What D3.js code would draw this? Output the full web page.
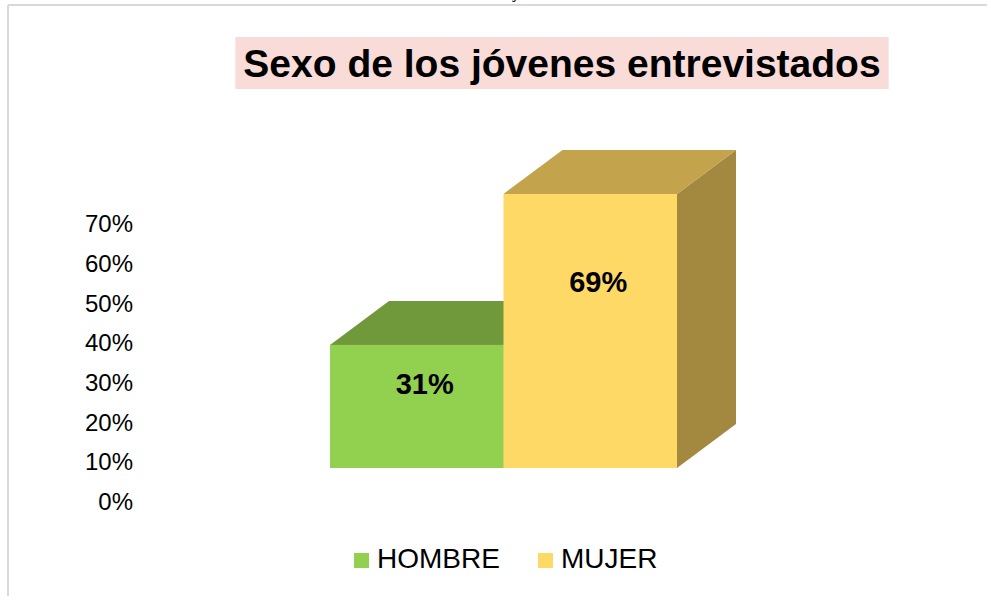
<!DOCTYPE html>
<html>
<head>
<meta charset="utf-8">
<script src="https://cdn.jsdelivr.net/npm/d3@7"></script>
<style>
  body { margin: 0; background: #fff; }
  svg { display: block; font-family: "Liberation Sans", Arial, sans-serif; }
</style>
</head>
<body>
<svg id="chart" width="987" height="596"></svg>
<script>
// data
var categories = ["HOMBRE", "MUJER"];
var values = [0.31, 0.69];
var tickValues = [0, 0.1, 0.2, 0.3, 0.4, 0.5, 0.6, 0.7];
var titleText = "Sexo de los jóvenes entrevistados";

var frontColors = ["#92d050", "#ffd966"];
var topColors = ["#70993c", "#c4a34d"];
var sideColors = ["#5a7d30", "#a3893f"];

var svg = d3.select("#chart");

// page frame (part of the document around the chart)
svg.append("line").attr("x1", 8).attr("y1", 5).attr("x2", 8).attr("y2", 596)
  .attr("stroke", "#d9d9d9").attr("stroke-width", 2);
svg.append("line").attr("x1", 8).attr("y1", 5).attr("x2", 987).attr("y2", 5)
  .attr("stroke", "#d9d9d9").attr("stroke-width", 2);
// descender of the document text above, cut by the page edge
svg.append("text").attr("x", 514).attr("y", -2)
  .style("font-family", "'Liberation Serif', serif").attr("font-size", 16)
  .attr("font-style", "italic").attr("fill", "#000").text("j");

// title
var title = svg.append("g");
var titleRect = title.append("rect").attr("fill", "#f9dbd8");
var tt = title.append("text")
  .attr("x", 562).attr("y", 77)
  .attr("text-anchor", "middle")
  .attr("font-size", 39).attr("font-weight", "bold")
  .attr("fill", "#000")
  .text(titleText);
var bb = tt.node().getBBox();
titleRect.attr("x", bb.x - 8).attr("y", 37).attr("width", bb.width + 16).attr("height", 52);

// y axis
var yAxisScale = d3.scaleLinear().domain([0, 0.7]).range([502, 224]);
var yAxis = svg.append("g").attr("transform", "translate(133,0)")
  .call(d3.axisLeft(yAxisScale).tickValues(tickValues).tickFormat(d3.format(".0%")).tickSize(0).tickPadding(0));
yAxis.select(".domain").remove();
yAxis.selectAll("text").attr("font-size", 24).attr("fill", "#000")
  .style("font-family", "'Liberation Sans', Arial, sans-serif");

// bars (3d)
var x = d3.scaleBand().domain(categories).range([330, 677]).padding(0);
var y = d3.scaleLinear().domain([0, 0.7]).range([468, 190]);
var dx = 59, dy = -44;

var bars = svg.append("g");
categories.forEach(function(c, i) {
  var x0 = x(c), x1 = x(c) + x.bandwidth();
  var yt = y(values[i]), yb = y(0);
  var g = bars.append("g");
  // side
  g.append("polygon")
    .attr("points", [[x1, yt], [x1 + dx, yt + dy], [x1 + dx, yb + dy], [x1, yb]].join(" "))
    .attr("fill", sideColors[i]);
  // top
  g.append("polygon")
    .attr("points", [[x0, yt], [x0 + dx, yt + dy], [x1 + dx, yt + dy], [x1, yt]].join(" "))
    .attr("fill", topColors[i]);
  // front
  g.append("rect")
    .attr("x", x0).attr("y", yt)
    .attr("width", x.bandwidth()).attr("height", yb - yt)
    .attr("fill", frontColors[i]);
  // label
  g.append("text")
    .attr("x", x0 + x.bandwidth() / 2 + 8)
    .attr("y", yt + (yb - yt) * 0.32)
    .attr("dy", "0.35em")
    .attr("text-anchor", "middle")
    .attr("font-size", 29).attr("font-weight", "bold")
    .text(d3.format(".0%")(values[i]));
});

// legend
var legend = svg.append("g");
categories.forEach(function(c, i) {
  var lx = 354 + i * 184;
  legend.append("rect").attr("x", lx).attr("y", 553).attr("width", 15).attr("height", 15)
    .attr("fill", frontColors[i]);
  legend.append("text").attr("x", lx + 23).attr("y", 568)
    .attr("font-size", 28).attr("fill", "#000").text(c);
});
</script>
</body>
</html>
